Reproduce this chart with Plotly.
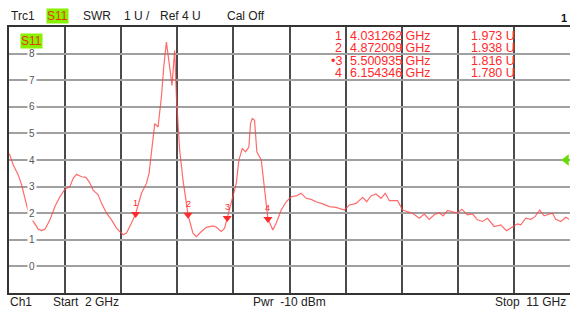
import plotly.graph_objects as go

# ---- data ----
freq_ghz = [2.005, 2.069, 2.149, 2.203, 2.256, 2.309, 2.389, 2.469, 2.524, 2.577,
            2.657, 2.737, 2.817, 2.897, 2.977, 3.030, 3.084, 3.164, 3.233, 3.286,
            3.350, 3.430, 3.485, 3.565, 3.645, 3.725, 3.830, 3.885, 3.965, 4.031,
            4.125, 4.205, 4.247, 4.285, 4.338, 4.391, 4.445, 4.482, 4.525, 4.578,
            4.615, 4.658, 4.686, 4.738, 4.791, 4.846, 4.872, 4.951, 5.006, 5.086,
            5.166, 5.272, 5.326, 5.406, 5.459, 5.501, 5.592, 5.646, 5.688, 5.742,
            5.795, 5.848, 5.875, 5.903, 5.939, 5.976, 6.047, 6.100, 6.154, 6.233,
            6.287, 6.367, 6.447, 6.527, 6.607, 6.687, 6.767, 6.848, 6.928, 7.033,
            7.141, 7.248, 7.381, 7.461, 7.568, 7.674, 7.738, 7.808, 7.888, 7.968,
            8.037, 8.101, 8.234, 8.314, 8.394, 8.474, 8.582, 8.662, 8.742, 8.822,
            8.902, 8.966, 9.035, 9.115, 9.195, 9.266, 9.355, 9.435, 9.516, 9.596,
            9.676, 9.783, 9.890, 9.980, 10.076, 10.156, 10.211, 10.291, 10.371, 10.440,
            10.515, 10.584, 10.637, 10.717, 10.772, 10.852, 10.932, 10.985]
swr = [4.24, 3.81, 3.43, 3.06, 2.56, 2.06, 1.69, 1.40, 1.35, 1.40,
       1.75, 2.25, 2.62, 2.90, 3.00, 3.31, 3.46, 3.37, 3.35, 3.18,
       2.87, 2.69, 2.37, 2.00, 1.75, 1.44, 1.19, 1.25, 1.63, 1.973,
       2.75, 3.12, 3.50, 4.37, 5.37, 5.24, 6.37, 7.49, 8.43, 7.49,
       6.80, 8.12, 6.37, 4.37, 3.25, 2.37, 1.938, 1.25, 1.12, 1.31,
       1.47, 1.52, 1.47, 1.31, 1.44, 1.816, 2.62, 3.12, 4.00, 4.43,
       4.31, 4.49, 5.37, 5.56, 5.49, 4.31, 4.00, 2.87, 1.780, 1.37,
       1.63, 2.12, 2.43, 2.62, 2.65, 2.75, 2.56, 2.52, 2.43, 2.35,
       2.25, 2.22, 2.12, 2.31, 2.37, 2.60, 2.43, 2.65, 2.72, 2.56,
       2.75, 2.47, 2.47, 2.12, 2.06, 2.00, 1.81, 1.97, 1.77, 1.94,
       2.02, 1.90, 2.10, 2.06, 2.00, 2.15, 1.94, 1.97, 1.75, 1.69,
       1.81, 1.50, 1.56, 1.34, 1.47, 1.60, 1.56, 1.81, 1.77, 1.87,
       2.12, 1.90, 1.94, 2.00, 1.77, 1.69, 1.85, 1.77]

marker_ids = ["1", "2", "3", "4"]
marker_freq = [4.031262, 4.872009, 5.500935, 6.154346]
marker_val = [1.973, 1.938, 1.816, 1.780]

y_ticks = [0, 1, 2, 3, 4, 5, 6, 7, 8]
start_ghz, stop_ghz = 2, 11
ref_level = 4

W, H = 570, 309
ML, MR, MT, MB = 9, 0, 27, 16
FONT = "Liberation Sans, Arial, sans-serif"
RED = "#ff2a2a"

fig = go.Figure()
fig.add_trace(go.Scatter(x=freq_ghz, y=swr, mode="lines",
                         line=dict(color="rgba(255,70,70,0.8)", width=1.2),
                         hoverinfo="skip", showlegend=False))
fig.add_trace(go.Scatter(x=marker_freq, y=marker_val, mode="markers",
                         marker=dict(symbol="triangle-down", size=8, color=RED),
                         showlegend=False, hoverinfo="skip"))
fig.add_trace(go.Scatter(x=[stop_ghz - 0.06], y=[ref_level], mode="markers",
                         marker=dict(symbol="triangle-left", size=10, color="#66dd00"),
                         cliponaxis=False, showlegend=False, hoverinfo="skip"))

ann = []
# marker numbers
for mid, f, v in zip(marker_ids, marker_freq, marker_val):
    ann.append(dict(x=f, y=v, xref="x", yref="y", text=mid, showarrow=False,
                    yshift=11, font=dict(size=9, color=RED, family=FONT)))
# y tick labels inside the plot
for t in y_ticks:
    ann.append(dict(x=0, y=t, xref="paper", yref="y", xshift=18, text=str(t),
                    showarrow=False, bgcolor="white", borderpad=1,
                    font=dict(size=10, color="#555", family=FONT)))
# S11 in-plot label
ann.append(dict(x=0, y=1, xref="paper", yref="paper", xanchor="left", yanchor="top",
                xshift=11, yshift=-6, text="S11", showarrow=False, bgcolor="#88f000",
                borderpad=0, font=dict(size=12, color="#e03a00", family=FONT)))
# header
header = [("Trc1", 10, None), ("S11", 46, "#88f000"), ("SWR", 82, None),
          ("1 U /", 123, None), ("Ref 4 U", 159, None), ("Cal Off", 226, None)]
for txt, px, bg in header:
    ann.append(dict(x=0, y=1, xref="paper", yref="paper", xanchor="left", yanchor="middle",
                    xshift=px - ML, yshift=11, text=txt, showarrow=False,
                    bgcolor=bg, borderpad=0,
                    font=dict(size=12, color=("#e03a00" if bg else "#222"), family=FONT)))
ann.append(dict(x=0, y=1, xref="paper", yref="paper", xanchor="center", yanchor="middle",
                xshift=564 - ML, yshift=9, text="<b>1</b>", showarrow=False,
                font=dict(size=11, color="#111", family=FONT)))
# marker table
row_shift = [-8.5, -21, -33.5, -45.5]
for i, (mid, f, v) in enumerate(zip(marker_ids, marker_freq, marker_val)):
    num = ("\u2022" + mid) if i == 2 else mid
    ann.append(dict(x=0, y=1, xref="paper", yref="paper", xanchor="right", yanchor="middle",
                    xshift=343 - ML, yshift=row_shift[i], text=num, showarrow=False,
                    borderpad=0, font=dict(size=12.5, color=RED, family=FONT)))
    ann.append(dict(x=0, y=1, xref="paper", yref="paper", xanchor="left", yanchor="middle",
                    xshift=349 - ML, yshift=row_shift[i], text=f"{f:.6f} GHz", showarrow=False,
                    borderpad=0, font=dict(size=12.5, color=RED, family=FONT)))
    ann.append(dict(x=0, y=1, xref="paper", yref="paper", xanchor="left", yanchor="middle",
                    xshift=470 - ML, yshift=row_shift[i], text=f"{v:.3f} U", showarrow=False,
                    borderpad=0, font=dict(size=12.5, color=RED, family=FONT)))
# footer
footer = [("Ch1", 9, "left"), ("Start\u00a0\u00a02 GHz", 52, "left"),
          ("Pwr\u00a0\u00a0-10 dBm", 252, "left"), ("Stop\u00a0\u00a011 GHz", 567, "right")]
for txt, px, anc in footer:
    ann.append(dict(x=0, y=0, xref="paper", yref="paper", xanchor=anc, yanchor="middle",
                    xshift=px - ML, yshift=-9, text=txt, showarrow=False, borderpad=0,
                    font=dict(size=12, color="#222", family=FONT)))

fig.update_layout(
    width=W, height=H, margin=dict(l=ML, r=MR, t=MT, b=MB, autoexpand=False),
    paper_bgcolor="white", plot_bgcolor="white", showlegend=False,
    annotations=ann,
    xaxis=dict(range=[start_ghz, stop_ghz], tick0=start_ghz, dtick=(stop_ghz - start_ghz) / 10,
               showgrid=True, gridcolor="#4a4a4a", gridwidth=1.5, showticklabels=False,
               ticks="", zeroline=False, showline=True, linecolor="#333", linewidth=1.5,
               mirror=True, fixedrange=True),
    yaxis=dict(range=[-1, 9], tick0=-1, dtick=1, showgrid=True, gridcolor="#a0a0a0",
               gridwidth=2, showticklabels=False, ticks="", zeroline=False,
               showline=True, linecolor="#333", linewidth=1.5, mirror=True, fixedrange=True),
)
fig.write_html("out.html", config={"displayModeBar": False},
               post_script="document.body.style.margin='0';document.body.style.overflow='hidden';")
